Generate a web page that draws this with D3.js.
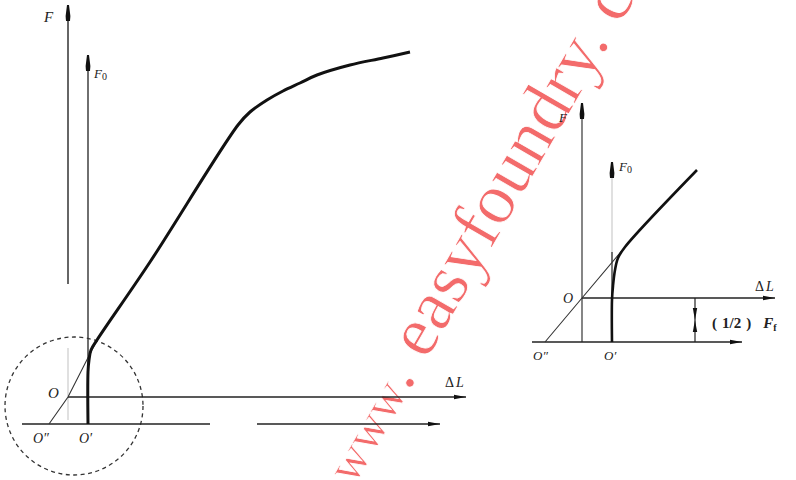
<!DOCTYPE html>
<html><head><meta charset="utf-8">
<script src="https://cdn.jsdelivr.net/npm/d3@7"></script>
<style>body{margin:0;background:#fff}svg{display:block}</style>
</head><body>
<script>
// ---- data (diagram units; O' is the origin of each panel) ----
// Left panel: load F vs elongation ΔL (1 unit = 4 px)
const leftCurve = [[0,0],[0,13],[0.25,16],[0.75,18.5],[2.25,21],[15.5,40.5],[37.5,74.75],[40.5,78],
  [44.75,81],[48.75,83.25],[53,85.25],[57.25,87.25],[65.5,89.75],[73.75,91.5],[80.5,93]];
const leftTangent = [[-9.75,0],[-5,6.75],[2.25,21]];
const leftAxes = {F:[-5,104.75], F0:[0,92.25], dL:[-5,94.5,6.75], base1:[-16.5,30.5], base2:[42.25,88]};
const leftCircle = [-3.5,4.5,17.25];
// Right panel (1 unit = 2 px)
const rightCurve = [[0,0],[0,21],[0.5,28],[1.5,36],[3,42],[6.5,47.5],[42.5,86]];
const rightTangent = [[-33.5,0],[-15,22],[6.5,47.5]];
const rightAxes = {F:[-15,119.5], F0:[0,90], dL:[-15,81.5,22], base:[-40,65], dim:41.5};
const labels = ["F","F","O","O\u2033","O\u2032","\u0394","L","(1/2)","F"];
const watermark = ["www", ". easyfoundry. com"];

const W=796,H=480;
const svg=d3.select("body").append("svg").attr("width",W).attr("height",H);

const defs=svg.append("defs");
defs.append("marker").attr("id","ar").attr("viewBox","0 0 12 6").attr("refX",12).attr("refY",3)
  .attr("markerWidth",12).attr("markerHeight",6).attr("markerUnits","userSpaceOnUse").attr("orient","auto")
  .append("path").attr("d","M0,0.8L12,3L0,5.2Z").attr("fill","#111");
defs.append("marker").attr("id","arv").attr("viewBox","0 0 16 6").attr("refX",16).attr("refY",3)
  .attr("markerWidth",16).attr("markerHeight",6).attr("markerUnits","userSpaceOnUse").attr("orient","auto")
  .append("path").attr("d","M0,1L5,0.6L16,2L16,4L5,5.4L0,5Z").attr("fill","#111");

// watermark (behind)
const wm=svg.append("text")
  .attr("transform","translate(354,486) rotate(-60)")
  .attr("font-family","Liberation Serif, serif")
  .attr("fill","#f36b6b").attr("stroke","#fff").attr("stroke-width",0.8);
wm.append("tspan").text(watermark[0]).attr("font-size",50);
wm.append("tspan").text(watermark[1]).attr("font-size",72);

function panel(x,y){
  const g=svg.append("g");
  const line=d3.line().x(d=>x(d[0])).y(d=>y(d[1]));
  return {g,line};
}
function seg(g,x1,y1,x2,y2,opt){
  const l=g.append("line").attr("x1",x1).attr("y1",y1).attr("x2",x2).attr("y2",y2)
   .attr("stroke",opt.c||"#222").attr("stroke-width",opt.w||1.4);
  if(opt.m) l.attr("marker-end",`url(#${opt.m})`);
  if(opt.d) l.attr("stroke-dasharray",opt.d);
  return l;
}
function label(g,x,y,t,size,italic,anchor){
  return g.append("text").attr("x",x).attr("y",y).text(t)
   .attr("font-family","Liberation Serif, serif").attr("font-size",size)
   .attr("font-style",italic?"italic":"normal").attr("fill","#222")
   .attr("text-anchor",anchor||"start");
}

// ---------- LEFT PANEL ----------
{
  const x=d3.scaleLinear().domain([0,100]).range([88,488]);
  const y=d3.scaleLinear().domain([0,100]).range([424,24]);
  const {g,line}=panel(x,y);
  const A=leftAxes;
  g.append("circle").attr("cx",x(leftCircle[0])).attr("cy",y(leftCircle[1]))
   .attr("r",x(leftCircle[2])-x(0)).attr("fill","none").attr("stroke","#333")
   .attr("stroke-width",1.3).attr("stroke-dasharray","4,3.5");
  seg(g,x(A.F[0]),y(0)-4,x(A.F[0]),y(19),{c:"#ccc",w:1.2});
  seg(g,x(A.F[0]),y(35),x(A.F[0]),y(A.F[1]),{c:"#333",w:1.5,m:"arv"});
  seg(g,x(A.F0[0]),y(A.F0[0]),x(A.F0[0]),y(A.F0[1]),{c:"#333",w:1.4,m:"arv"});
  seg(g,x(A.dL[0]),y(A.dL[2]),x(A.dL[1]),y(A.dL[2]),{c:"#222",w:1.4,m:"ar"});
  seg(g,x(A.base1[0]),y(0),x(A.base1[1]),y(0),{c:"#222",w:1.3});
  seg(g,x(A.base2[0]),y(0),x(A.base2[1]),y(0),{c:"#222",w:1.4,m:"ar"});
  g.append("path").attr("d",line(leftTangent)).attr("fill","none").attr("stroke","#333").attr("stroke-width",1.1);
  g.append("path").attr("d",line.curve(d3.curveCatmullRom.alpha(0.5))(leftCurve)).attr("fill","none")
   .attr("stroke","#111").attr("stroke-width",3).attr("stroke-linejoin","round");
  label(g,44,22,labels[0],15,true);
  const f0=label(g,94,78,labels[1],13,true); f0.append("tspan").text("0").attr("font-size",10).attr("dy",2).attr("font-style","normal");
  label(g,48,398,labels[2],15,true);
  label(g,33,443,labels[3],14,true);
  label(g,79,443,labels[4],14,true);
  const dl=label(g,445,387,labels[5],14,false); dl.append("tspan").text(labels[6]).attr("font-style","italic").attr("dx",2);
}

// ---------- RIGHT PANEL ----------
{
  const x=d3.scaleLinear().domain([0,100]).range([612,812]);
  const y=d3.scaleLinear().domain([0,100]).range([342,142]);
  const {g,line}=panel(x,y);
  const A=rightAxes;
  seg(g,x(A.F[0]),y(0),x(A.F[0]),y(A.F[1]),{c:"#444",w:1.3,m:"arv"});
  seg(g,x(A.F0[0]),y(40),x(A.F0[0]),y(A.F0[1]),{c:"#ccc",w:1.2,m:"arv"});
  seg(g,x(A.F0[0]),y(0),x(A.F0[0]),y(45),{c:"#333",w:1.3});
  seg(g,x(A.dL[0]),y(A.dL[2]),x(A.dL[1]),y(A.dL[2]),{c:"#222",w:1.3,m:"ar"});
  seg(g,x(A.base[0]),y(0),x(A.base[1]),y(0),{c:"#222",w:1.3,m:"ar"});
  seg(g,x(A.dim),y(A.dL[2]),x(A.dim),y(11),{c:"#222",w:1.2,m:"ar"});
  seg(g,x(A.dim),y(0),x(A.dim),y(11),{c:"#222",w:1.2,m:"ar"});
  g.append("path").attr("d",line(rightTangent)).attr("fill","none").attr("stroke","#333").attr("stroke-width",1.1);
  g.append("path").attr("d",line.curve(d3.curveCatmullRom.alpha(0.5))(rightCurve)).attr("fill","none")
   .attr("stroke","#111").attr("stroke-width",2.6).attr("stroke-linejoin","round");
  label(g,559,122,labels[0],13,true);
  const f0=label(g,619,171,labels[1],13,true); f0.append("tspan").text("0").attr("font-size",10).attr("dy",2).attr("font-style","normal");
  label(g,563,303,labels[2],14,true);
  label(g,533,360,labels[3],13,true);
  label(g,604,360,labels[4],13,true);
  const dl=label(g,755,291,labels[5],14,false); dl.append("tspan").text(labels[6]).attr("font-style","italic").attr("dx",2);
  const ff=label(g,712,328,"(",15,false).attr("font-weight","bold");
  ff.append("tspan").text("1/2").attr("dx",5);
  ff.append("tspan").text(")").attr("dx",5);
  ff.append("tspan").text(labels[8]).attr("font-style","italic").attr("dx",12);
  ff.append("tspan").text("f").attr("font-size",10).attr("dy",3).attr("font-style","normal");
}
</script>
</body></html>
